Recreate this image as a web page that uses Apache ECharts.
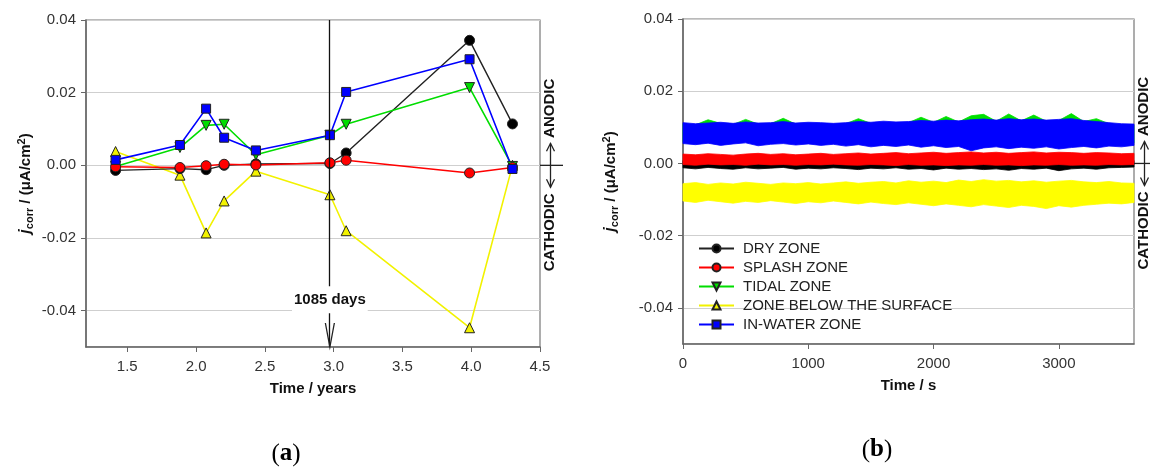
<!DOCTYPE html>
<html><head><meta charset="utf-8">
<script src="https://cdn.jsdelivr.net/npm/echarts@6/dist/echarts.min.js"></script>
<style>html,body{margin:0;padding:0;background:#fff}#c{width:1150px;height:469px}</style>
</head><body><div id="c"></div>
<script>
// ---------- data (panel a) ----------
const zoneNames = ['DRY ZONE', 'SPLASH ZONE', 'TIDAL ZONE', 'ZONE BELOW THE SURFACE', 'IN-WATER ZONE'];
const timeYears = [1.415, 1.883, 2.073, 2.204, 2.435, 2.973, 3.091, 3.988, 4.300];
const dryA     = [-0.0014, -0.0009, -0.0012, 0.0000, 0.0004, 0.0005, 0.0034, 0.0344, 0.0114];
const splashA  = [-0.0004, -0.0006, -0.0001, 0.0003, 0.0001, 0.0007, 0.0014, -0.0021, -0.0006];
const tidalA   = [-0.0003, 0.0049, 0.0110, 0.0113, 0.0029, 0.0083, 0.0113, 0.0214, -0.0003];
const belowA   = [0.0038, -0.0027, -0.0186, -0.0098, -0.0016, -0.0081, -0.0180, -0.0447, 0.0000];
const inWaterA = [0.0015, 0.0056, 0.0156, 0.0076, 0.0041, 0.0083, 0.0202, 0.0292, -0.0010];
const markDays = 1085;
const markLabel = '1085 days';

// ---------- data (panel b): envelopes of the noisy records ----------
const timeSec = [0,100,200,300,400,500,600,700,800,900,1000,1100,1200,1300,1400,1500,1600,1700,1800,1900,2000,2100,2200,2300,2400,2500,2600,2700,2800,2900,3000,3100,3200,3300,3400,3500,3600];
const tidalHi = [0.0110,0.0107,0.0121,0.0111,0.0108,0.0122,0.0109,0.0110,0.0125,0.0109,0.0111,0.0110,0.0108,0.0110,0.0124,0.0111,0.0114,0.0112,0.0113,0.0128,0.0114,0.0130,0.0115,0.0132,0.0136,0.0117,0.0137,0.0118,0.0134,0.0117,0.0119,0.0138,0.0116,0.0124,0.0110,0.0107,0.0106];
const tidalLo = [0.0060,0.0058,0.0061,0.0057,0.0059,0.0062,0.0056,0.0059,0.0060,0.0057,0.0059,0.0056,0.0058,0.0055,0.0058,0.0054,0.0056,0.0054,0.0057,0.0053,0.0055,0.0052,0.0054,0.0050,0.0052,0.0054,0.0050,0.0053,0.0051,0.0054,0.0049,0.0052,0.0055,0.0052,0.0056,0.0054,0.0057];
const inWaterHi = [0.0113,0.0110,0.0112,0.0114,0.0111,0.0115,0.0112,0.0113,0.0116,0.0112,0.0114,0.0113,0.0111,0.0113,0.0116,0.0114,0.0117,0.0115,0.0116,0.0119,0.0117,0.0120,0.0118,0.0121,0.0123,0.0120,0.0124,0.0121,0.0123,0.0120,0.0122,0.0124,0.0119,0.0116,0.0113,0.0110,0.0109];
const inWaterLo = [0.0055,0.0052,0.0056,0.0050,0.0054,0.0057,0.0049,0.0053,0.0055,0.0051,0.0054,0.0050,0.0053,0.0048,0.0052,0.0046,0.0050,0.0047,0.0051,0.0045,0.0049,0.0044,0.0047,0.0035,0.0043,0.0046,0.0041,0.0045,0.0042,0.0046,0.0040,0.0044,0.0047,0.0043,0.0048,0.0046,0.0050];
const dryHi = [0.0008,0.0007,0.0009,0.0008,0.0007,0.0008,0.0009,0.0007,0.0008,0.0009,0.0008,0.0007,0.0008,0.0009,0.0008,0.0007,0.0009,0.0008,0.0007,0.0008,0.0009,0.0008,0.0007,0.0008,0.0009,0.0008,0.0007,0.0009,0.0008,0.0007,0.0008,0.0009,0.0008,0.0007,0.0008,0.0009,0.0008];
const dryLo = [-0.0012,-0.0015,-0.0011,-0.0014,-0.0016,-0.0012,-0.0015,-0.0013,-0.0011,-0.0016,-0.0013,-0.0015,-0.0012,-0.0014,-0.0017,-0.0013,-0.0015,-0.0012,-0.0016,-0.0014,-0.0018,-0.0013,-0.0016,-0.0014,-0.0017,-0.0015,-0.0019,-0.0014,-0.0016,-0.0013,-0.0020,-0.0015,-0.0013,-0.0016,-0.0012,-0.0011,-0.0010];
const splashHi = [0.0026,0.0024,0.0027,0.0025,0.0023,0.0026,0.0028,0.0025,0.0027,0.0024,0.0026,0.0028,0.0025,0.0027,0.0029,0.0026,0.0028,0.0030,0.0027,0.0029,0.0031,0.0028,0.0030,0.0032,0.0029,0.0031,0.0028,0.0030,0.0032,0.0029,0.0031,0.0030,0.0028,0.0030,0.0029,0.0027,0.0028];
const splashLo = [-0.0003,-0.0005,-0.0002,-0.0004,-0.0003,-0.0005,-0.0002,-0.0004,-0.0003,-0.0005,-0.0003,-0.0004,-0.0002,-0.0004,-0.0005,-0.0003,-0.0004,-0.0006,-0.0003,-0.0005,-0.0004,-0.0006,-0.0004,-0.0005,-0.0003,-0.0005,-0.0004,-0.0006,-0.0004,-0.0005,-0.0003,-0.0005,-0.0004,-0.0005,-0.0003,-0.0004,-0.0003];
const belowHi = [-0.0056,-0.0053,-0.0058,-0.0054,-0.0057,-0.0052,-0.0055,-0.0058,-0.0054,-0.0056,-0.0053,-0.0057,-0.0054,-0.0051,-0.0055,-0.0052,-0.0050,-0.0054,-0.0048,-0.0052,-0.0049,-0.0053,-0.0046,-0.0050,-0.0045,-0.0049,-0.0047,-0.0051,-0.0048,-0.0052,-0.0049,-0.0047,-0.0051,-0.0053,-0.0050,-0.0054,-0.0055];
const belowLo = [-0.0104,-0.0108,-0.0102,-0.0106,-0.0110,-0.0105,-0.0108,-0.0103,-0.0107,-0.0111,-0.0106,-0.0109,-0.0104,-0.0108,-0.0112,-0.0107,-0.0111,-0.0114,-0.0109,-0.0113,-0.0117,-0.0112,-0.0116,-0.0120,-0.0114,-0.0118,-0.0122,-0.0116,-0.0119,-0.0125,-0.0117,-0.0121,-0.0116,-0.0113,-0.0110,-0.0112,-0.0108];

// ---------- styling ----------
const FONT = 'Liberation Sans, Arial, sans-serif';
const COL = { dry: '#000000', splash: '#ff0000', tidal: '#00dd00', below: '#f2f200', water: '#0000ff' };
const yName = '{j|j}{s|corr}{n| / (μA/cm}{p|2}{n|)}';
const yRich = {
  j: { fontStyle: 'italic', fontWeight: 'bold', fontSize: 16, fontFamily: FONT, color: '#111' },
  s: { fontWeight: 'bold', fontSize: 11, fontFamily: FONT, color: '#111', padding: [7, 0, 0, 0] },
  n: { fontWeight: 'bold', fontSize: 15, fontFamily: FONT, color: '#111' },
  p: { fontWeight: 'bold', fontSize: 11, fontFamily: FONT, color: '#111', padding: [0, 0, 9, 0] }
};

function yAxisCfg(gi, gap) {
  return {
    type: 'value', gridIndex: gi, min: -0.05, max: 0.04,
    name: yName, nameLocation: 'middle', nameRotate: 90, nameGap: gap,
    nameTextStyle: { rich: yRich },
    axisLine: { show: true, onZero: false, lineStyle: { color: '#666', width: 1.5 } },
    axisTick: { show: true, inside: false, length: 5, lineStyle: { color: '#666', width: 1 } },
    axisLabel: { showMinLabel: false, margin: 10, fontSize: 15, fontFamily: FONT, color: '#333',
      formatter: v => v.toFixed(2) },
    splitLine: { show: true, lineStyle: { color: '#cfcfcf', width: 1 } }
  };
}
function xAxisCfg(gi, min, max, name, labelExtra) {
  return {
    type: 'value', gridIndex: gi, min: min, max: max,
    name: name, nameLocation: 'middle', nameGap: 34,
    nameTextStyle: { fontWeight: 'bold', fontSize: 15, fontFamily: FONT, color: '#111' },
    axisLine: { show: true, onZero: false, lineStyle: { color: '#666', width: 1.5 } },
    axisTick: { show: true, inside: false, length: 5, lineStyle: { color: '#666', width: 1 } },
    axisLabel: Object.assign({ margin: 12, fontSize: 15, fontFamily: FONT, color: '#333' }, labelExtra),
    splitLine: { show: false }
  };
}

function pointSeries(name, vals, color, symbol, size, extra) {
  return Object.assign({
    name: name, type: 'line', xAxisIndex: 0, yAxisIndex: 0,
    data: timeYears.map((t, i) => [t, vals[i]]),
    symbol: symbol, symbolSize: size, showSymbol: true,
    lineStyle: { color: color, width: 1.6 },
    itemStyle: { color: color, borderColor: '#222', borderWidth: 1 },
    emphasis: { disabled: true }, silent: true
  }, extra || {});
}

// band between a lower and an upper envelope, drawn through the axes (api.coord)
function band(key, lo, hi, color) {
  return {
    name: key + '-band', type: 'custom', xAxisIndex: 1, yAxisIndex: 1, silent: true,
    data: [[timeSec[0], lo[0]]], encode: { x: 0, y: 1 },
    renderItem: function (params, api) {
      const pts = [];
      for (let i = 0; i < timeSec.length; i++) pts.push(api.coord([timeSec[i], hi[i]]));
      for (let i = timeSec.length - 1; i >= 0; i--) pts.push(api.coord([timeSec[i], lo[i]]));
      return { type: 'polygon', shape: { points: pts }, style: { fill: color, stroke: color, lineWidth: 0.8 } };
    }
  };
}

const series = [
  pointSeries(zoneNames[3], belowA, COL.below, 'triangle', 10, {
    markLine: { silent: true, symbol: 'none', animation: false,
      lineStyle: { color: '#111', width: 1.3, type: 'solid' }, label: { show: false },
      data: [{ xAxis: markDays / 365 }] }
  }),
  pointSeries(zoneNames[0], dryA, COL.dry, 'circle', 10, { lineStyle: { color: '#222', width: 1.4 } }),
  pointSeries(zoneNames[2], tidalA, COL.tidal, 'path://M0,0 L10,0 L5,9 Z', 10),
  pointSeries(zoneNames[1], splashA, COL.splash, 'circle', 10),
  pointSeries(zoneNames[4], inWaterA, COL.water, 'rect', 9),
  band('tidal', tidalLo, tidalHi, '#00e000'),
  band('water', inWaterLo, inWaterHi, '#0000ff'),
  band('dry', dryLo, dryHi, '#000000'),
  band('splash', splashLo, splashHi, '#ff0000'),
  band('below', belowLo, belowHi, '#ffff00')
];

const option = {
  animation: false,
  backgroundColor: '#fff',
  grid: [
    { left: 86, top: 20, width: 454, height: 327, show: true, borderColor: '#777', borderWidth: 1.2, backgroundColor: 'transparent' },
    { left: 683, top: 19, width: 451, height: 325, show: true, borderColor: '#777', borderWidth: 1.2, backgroundColor: 'transparent' }
  ],
  xAxis: [
    xAxisCfg(0, 1.2, 4.5, 'Time / years', { showMinLabel: false, formatter: v => v.toFixed(1) }),
    xAxisCfg(1, 0, 3600, 'Time / s', { showMaxLabel: false, formatter: v => String(v) })
  ],
  yAxis: [yAxisCfg(0, 50), yAxisCfg(1, 62)],
  legend: {
    data: zoneNames, orient: 'vertical', left: 693, top: 236,
    itemWidth: 35, itemHeight: 10, itemGap: 4, selectedMode: false,
    textStyle: { fontSize: 15, fontFamily: FONT, color: '#222', lineHeight: 15, padding: [0, 0, 0, 4] }
  },
  series: series
};

const chart = echarts.init(document.getElementById('c'), null, { renderer: 'canvas' });
chart.setOption(option);

// ---------- annotations positioned through the axes ----------
const gfx = [];
const stroke = { stroke: '#222', lineWidth: 1.3, fill: null };
function sideLabels(gi, xMax) {
  const p = chart.convertToPixel({ gridIndex: gi }, [xMax, 0]);
  const rx = p[0], zy = p[1];
  const ax = rx + 10.5;
  gfx.push({ type: 'line', z: 100, shape: { x1: rx, y1: zy, x2: rx + 23, y2: zy }, style: stroke });
  gfx.push({ type: 'line', z: 100, shape: { x1: ax, y1: zy - 22, x2: ax, y2: zy + 22 }, style: stroke });
  gfx.push({ type: 'polyline', z: 100, shape: { points: [[ax - 4, zy - 14], [ax, zy - 22], [ax + 4, zy - 14]] }, style: stroke });
  gfx.push({ type: 'polyline', z: 100, shape: { points: [[ax - 4, zy + 14], [ax, zy + 22], [ax + 4, zy + 14]] }, style: stroke });
  const tst = { font: 'bold 15px ' + FONT, fill: '#111', align: 'center', verticalAlign: 'middle' };
  gfx.push({ type: 'text', z: 100, x: rx + 10, y: zy - 57, rotation: Math.PI / 2, style: Object.assign({ text: 'ANODIC' }, tst) });
  gfx.push({ type: 'text', z: 100, x: rx + 10, y: zy + 67, rotation: Math.PI / 2, style: Object.assign({ text: 'CATHODIC' }, tst) });
}
sideLabels(0, 4.5);
sideLabels(1, 3600);

const mx = markDays / 365;
const bot = chart.convertToPixel({ gridIndex: 0 }, [mx, -0.05]);
gfx.push({ type: 'polyline', z: 100, shape: { points: [[bot[0] - 4.5, bot[1] - 24], [bot[0], bot[1]], [bot[0] + 4.5, bot[1] - 24]] }, style: stroke });
const lp = chart.convertToPixel({ gridIndex: 0 }, [mx, -0.037]);
gfx.push({ type: 'text', z: 100, x: lp[0], y: lp[1], style: { text: markLabel, font: 'bold 15px ' + FONT, fill: '#111',
  align: 'center', verticalAlign: 'middle', backgroundColor: '#fff', padding: [6, 2] } });

const capRich = { p: { fontSize: 25, fontFamily: 'Liberation Serif, serif', color: '#111' },
                  b: { fontSize: 25, fontWeight: 'bold', fontFamily: 'Liberation Serif, serif', color: '#111' } };
gfx.push({ type: 'text', x: 286, y: 454, style: { text: '{p|(}{b|a}{p|)}', rich: capRich, align: 'center', verticalAlign: 'middle' } });
gfx.push({ type: 'text', x: 877, y: 450, style: { text: '{p|(}{b|b}{p|)}', rich: capRich, align: 'center', verticalAlign: 'middle' } });

chart.setOption({ graphic: gfx });
</script>
</body></html>
